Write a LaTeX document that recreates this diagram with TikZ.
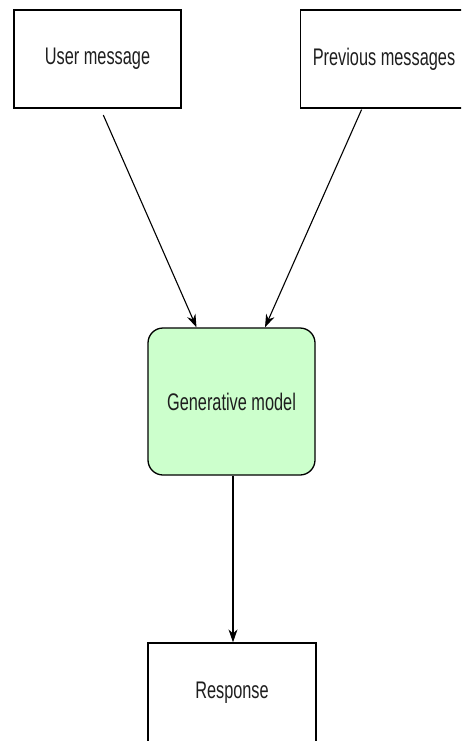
\documentclass[tikz,border=0pt]{standalone}
\usepackage{fontspec}
\usepackage{xcolor}
\usepackage{tikz}
\usetikzlibrary{positioning,calc,arrows.meta}

\newfontfamily\boxfont{Liberation Sans}[FakeStretch=0.68]
\definecolor{modelgreen}{RGB}{204,255,204}
\definecolor{textgray}{RGB}{30,30,30}

\tikzset{
    box/.style={draw, line width=1.3pt, minimum width=167pt, minimum height=98pt,
        font=\boxfont\fontsize{24}{28}\selectfont, text=textgray, inner sep=0pt},
    flow/.style={line width=1.1pt, -{Stealth[length=13pt,width=9pt]}}
}

\begin{document}
\begin{tikzpicture}[x=1pt,y=-1pt]
        % Frame
        \clip (0,0) rectangle (461,741);

        % Inputs
        \node[box] (user) at (97.5,59) {User message};
        \node[box] (prev) at (384,59) {Previous messages};

        % Model
        \node[box, fill=modelgreen, rounded corners=15pt, minimum height=147pt] (model) at (231.5,401.5) {Generative model};

        % Output
        \node[box, minimum width=168pt, minimum height=100pt] (resp) at (232,693) {Response};

        % Arrows
        \draw[flow, shorten <=7pt] ([xshift=3pt]user.south) -- ([xshift=-35pt]model.north);
        \draw[flow, shorten <=1pt] ([xshift=-22pt]prev.south) -- ([xshift=33.5pt]model.north);
        \draw[flow] ([xshift=1.5pt]model.south) -- ([xshift=1pt]resp.north);
    \end{tikzpicture}
\end{document}
